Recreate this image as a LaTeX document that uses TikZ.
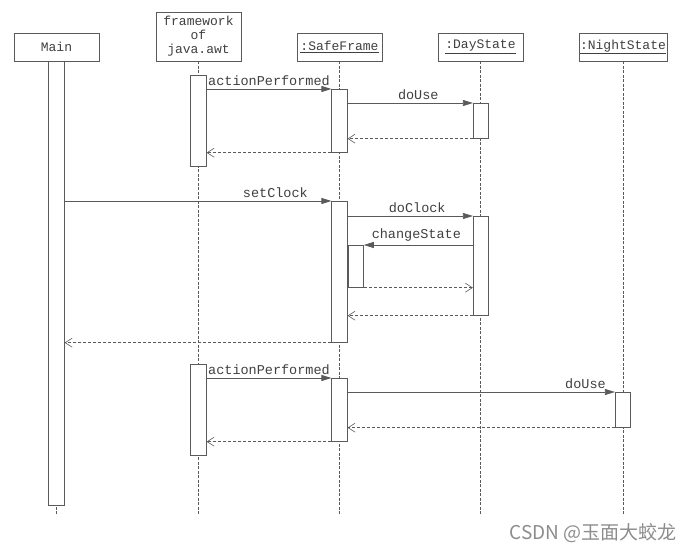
\documentclass[tikz,border=0pt]{standalone}
\usepackage{fontspec}
\setmonofont{Liberation Mono}
\newfontfamily\cjk{Noto Sans CJK SC}
\usetikzlibrary{arrows.meta}
\definecolor{ln}{HTML}{5A5A5A}
\definecolor{tx}{HTML}{404040}
\tikzset{
  obj/.style={draw=ln, line width=0.7pt, fill=white, minimum width=85pt, minimum height=28pt, inner sep=1pt, font=\ttfamily\fontsize{13}{14}\selectfont, text=tx, align=center},
  act/.style={draw=ln, line width=0.7pt, fill=white, minimum width=15.5pt, inner sep=0pt, anchor=north},
  life/.style={draw=ln, dashed, dash pattern=on 3pt off 1.5pt, line width=0.5pt},
  call/.style={draw=ln, line width=0.7pt, -{Triangle[length=10pt,width=6pt]}},
  ret/.style={draw=ln, line width=0.6pt, dash pattern=on 3pt off 2pt, -{Straight Barb[length=7pt,width=9pt]}},
  lbl/.style={font=\ttfamily\fontsize{13.5}{14}\selectfont, text=tx, inner sep=1pt, above=2pt}
}
\begin{document}
\begin{tikzpicture}[x=1pt,y=-1pt]
\useasboundingbox (0,0) rectangle (691,553);
% objects
\node[obj] (main) at (56.5,47) {Main};
\node[obj, minimum height=49pt] (fw) at (198.5,36.5) {framework\\of\\java.awt};
\node[obj] (sf) at (339.5,47) {\underline{:SafeFrame}};
\node[obj] (ds) at (480.5,47) {\underline{:DayState}};
\node[obj] (ns) at (623,47) {\underline{:NightState}};
% lifeline ends
\coordinate (mainE) at (56.5,514);
\coordinate (fwE) at (198.5,514);
\coordinate (sfE) at (339.5,514);
\coordinate (dsE) at (480.5,514);
\coordinate (nsE) at (623,514);
\draw[life] (main.south) -- (mainE);
\draw[life] (fw.south) -- (fwE);
\draw[life] (sf.south) -- (sfE);
\draw[life] (ds.south) -- (dsE);
\draw[life] (ns.south) -- (nsE);
% activations
\node[act, minimum height=444pt] (ma) at (56.5,61) {};
\node[act, minimum height=91pt] (fw1) at (198.5,75) {};
\node[act, minimum height=63pt] (sf1) at (339.5,89) {};
\node[act, minimum height=35pt] (ds1) at (481,103) {};
\node[act, minimum height=141pt] (sf2) at (339.5,201) {};
\node[act, minimum height=99pt] (ds2) at (481,216) {};
\node[act, minimum height=42pt, anchor=north west] (nest) at (sf2.east |- 0,245) {};
\node[act, minimum height=91pt] (fw2) at (198.5,364) {};
\node[act, minimum height=63pt] (sf3) at (339.5,378) {};
\node[act, minimum height=35pt] (ns1) at (623,392) {};
% messages block 1
\draw[call] (fw1.east |- sf1.north) -- node[lbl] {actionPerformed} (sf1.north west);
\draw[call] (sf1.east |- ds1.north) -- node[lbl, xshift=8pt] {doUse} (ds1.north west);
\draw[ret] (ds1.south west) -- (sf1.east |- ds1.south);
\draw[ret] (sf1.south west) -- (fw1.east |- sf1.south);
% block 2
\draw[call] (ma.east |- sf2.north) -- node[lbl, pos=0.79] {setClock} (sf2.north west);
\draw[call] (sf2.east |- ds2.north) -- node[lbl, xshift=7pt] {doClock} (ds2.north west);
\draw[call] (ds2.west |- nest.north) -- node[lbl, xshift=-2pt] {changeState} (nest.north east);
\draw[ret] (nest.south east) -- (ds2.west |- nest.south);
\draw[ret] (ds2.south west) -- (sf2.east |- ds2.south);
\draw[ret] (sf2.south west) -- (ma.east |- sf2.south);
% block 3
\draw[call] (fw2.east |- sf3.north) -- node[lbl] {actionPerformed} (sf3.north west);
\draw[call] (sf3.east |- ns1.north) -- node[lbl, pos=0.89] {doUse} (ns1.north west);
\draw[ret] (ns1.south west) -- (sf3.east |- ns1.south);
\draw[ret] (sf3.south west) -- (fw2.east |- sf3.south);
% watermark
\node[font=\cjk\fontsize{19}{20}\selectfont, text=black!45, anchor=east, inner sep=0pt] (wm) at (677,533) {CSDN @玉面大蛟龙};
\end{tikzpicture}
\end{document}
